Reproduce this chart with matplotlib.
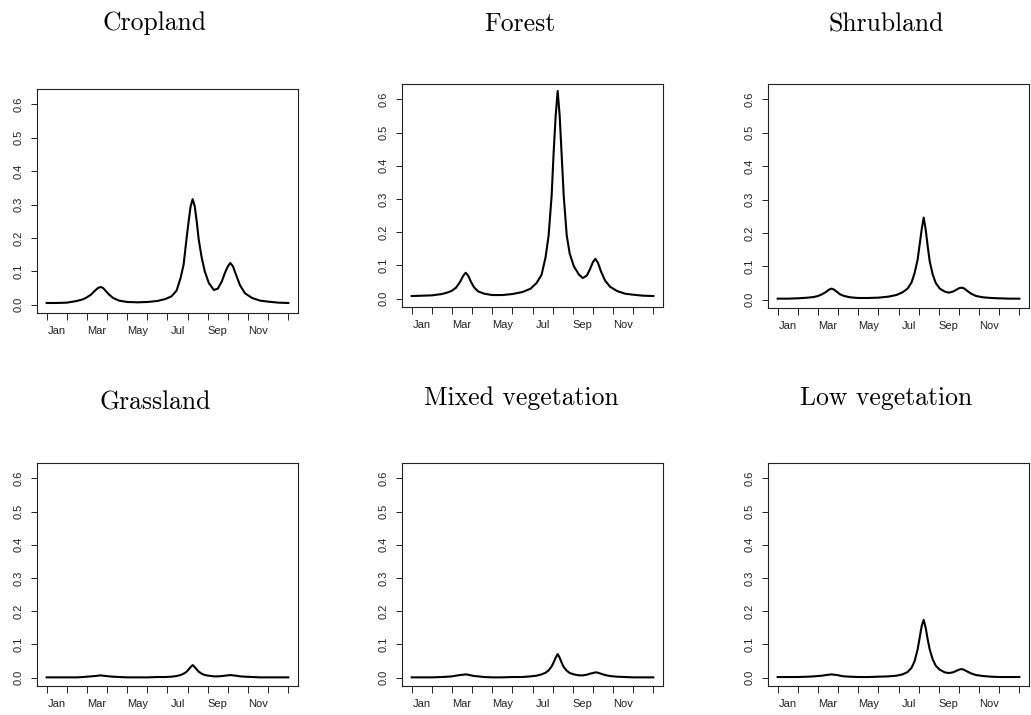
import matplotlib
matplotlib.use('Agg')
import matplotlib.pyplot as plt
from matplotlib import font_manager

# x positions in months since 1 Jan
months = [0, 0.5, 1.0, 1.5, 1.8, 2.0, 2.2, 2.4, 2.55, 2.68, 2.8, 2.95, 3.1, 3.3, 3.6,
          4.0, 4.5, 5.0, 5.5, 5.9, 6.2, 6.45, 6.65, 6.8, 6.95, 7.05, 7.15, 7.25, 7.35,
          7.45, 7.55, 7.7, 7.85, 8.05, 8.3, 8.5, 8.7, 8.85, 9.0, 9.12, 9.25, 9.4, 9.6,
          9.85, 10.2, 10.6, 11.0, 11.5, 12.0]

cropland = [0.005, 0.005, 0.006, 0.011, 0.016, 0.022, 0.030, 0.042, 0.050, 0.053,
            0.050, 0.040, 0.030, 0.020, 0.012, 0.008, 0.007, 0.008, 0.011, 0.017,
            0.025, 0.042, 0.080, 0.120, 0.200, 0.250, 0.295, 0.316, 0.295, 0.250,
            0.195, 0.140, 0.100, 0.065, 0.044, 0.048, 0.070, 0.095, 0.115, 0.125,
            0.115, 0.090, 0.058, 0.034, 0.020, 0.012, 0.009, 0.006, 0.005]
forest = [0.008, 0.009, 0.010, 0.014, 0.019, 0.024, 0.033, 0.050, 0.068, 0.078,
          0.070, 0.050, 0.034, 0.022, 0.015, 0.011, 0.011, 0.014, 0.020, 0.030,
          0.047, 0.072, 0.125, 0.190, 0.310, 0.440, 0.550, 0.625, 0.550, 0.430,
          0.310, 0.190, 0.135, 0.098, 0.073, 0.062, 0.070, 0.088, 0.110, 0.120,
          0.108, 0.082, 0.055, 0.036, 0.023, 0.015, 0.012, 0.009, 0.008]
shrubland = [0.003, 0.003, 0.004, 0.006, 0.008, 0.011, 0.016, 0.023, 0.030, 0.033,
             0.030, 0.023, 0.016, 0.011, 0.007, 0.005, 0.005, 0.006, 0.009, 0.014,
             0.022, 0.033, 0.052, 0.080, 0.120, 0.165, 0.210, 0.246, 0.210, 0.160,
             0.115, 0.075, 0.050, 0.033, 0.024, 0.021, 0.024, 0.029, 0.034, 0.036,
             0.034, 0.027, 0.018, 0.011, 0.007, 0.005, 0.004, 0.003, 0.003]
grassland = [0.001, 0.001, 0.001, 0.001, 0.002, 0.003, 0.004, 0.005, 0.006, 0.007,
             0.006, 0.005, 0.004, 0.003, 0.002, 0.001, 0.001, 0.001, 0.002, 0.002,
             0.003, 0.005, 0.008, 0.012, 0.018, 0.025, 0.032, 0.038, 0.032, 0.025,
             0.018, 0.012, 0.008, 0.006, 0.004, 0.004, 0.005, 0.006, 0.007, 0.008,
             0.007, 0.006, 0.004, 0.003, 0.002, 0.001, 0.001, 0.001, 0.001]
mixed = [0.001, 0.001, 0.001, 0.002, 0.003, 0.004, 0.006, 0.008, 0.009, 0.010,
         0.009, 0.007, 0.005, 0.004, 0.002, 0.001, 0.001, 0.002, 0.002, 0.004,
         0.006, 0.010, 0.015, 0.022, 0.034, 0.046, 0.060, 0.071, 0.060, 0.045,
         0.032, 0.021, 0.014, 0.010, 0.007, 0.007, 0.009, 0.012, 0.014, 0.016,
         0.015, 0.012, 0.008, 0.005, 0.003, 0.002, 0.001, 0.001, 0.001]
lowveg = [0.002, 0.002, 0.002, 0.003, 0.004, 0.005, 0.006, 0.008, 0.009, 0.010,
          0.009, 0.008, 0.006, 0.004, 0.003, 0.002, 0.002, 0.003, 0.004, 0.006,
          0.010, 0.017, 0.030, 0.050, 0.085, 0.120, 0.155, 0.174, 0.150, 0.115,
          0.085, 0.055, 0.036, 0.024, 0.016, 0.014, 0.016, 0.020, 0.024, 0.026,
          0.024, 0.019, 0.013, 0.008, 0.005, 0.003, 0.002, 0.002, 0.002]

titles = ['Cropland', 'Forest', 'Shrubland', 'Grassland', 'Mixed vegetation', 'Low vegetation']
series = [cropland, forest, shrubland, grassland, mixed, lowveg]
month_ticks = list(range(13))
label_pos = [0.5, 2.5, 4.5, 6.5, 8.5, 10.5]
month_labels = ['Jan', 'Mar', 'May', 'Jul', 'Sep', 'Nov']
y_ticks = [0.0, 0.1, 0.2, 0.3, 0.4, 0.5, 0.6]

# plain Helvetica-like face for the axis numbers
sans = font_manager.FontProperties(family='Liberation Sans', size=8)
for f in font_manager.findSystemFonts():
    if f.endswith('LiberationSans-Regular.ttf'):
        sans = font_manager.FontProperties(fname=f, size=8)
        break

W, H = 1031, 715
fig = plt.figure(figsize=(W / 100, H / 100), dpi=100)

# panel boxes in pixels: left, top, right, bottom
boxes = [(37, 89, 298, 313), (402, 84, 663, 307), (768, 84, 1029, 308),
         (37, 463, 298, 686), (402, 463, 663, 686), (768, 463, 1029, 686)]
title_xy = [(155, 30), (520, 31), (886, 31), (155, 409), (521, 405), (886, 405)]

for i in range(6):
    x0, y0, x1, y1 = boxes[i]
    ax = fig.add_axes([x0 / W, 1 - y1 / H, (x1 - x0) / W, (y1 - y0) / H])
    ax.plot(months, series[i], color='black', lw=1.5, solid_joinstyle='round')
    ax.set_xlim(-0.48, 12.48)
    ax.set_ylim(-0.025, 0.646)
    ax.set_xticks(month_ticks)
    ax.set_xticklabels([])
    ax.set_xticks(label_pos, minor=True)
    ax.set_xticklabels(month_labels, minor=True, fontproperties=sans)
    ax.set_yticks(y_ticks)
    ax.set_yticklabels(['%.1f' % v for v in y_ticks], rotation=90, va='center',
                       fontproperties=sans)
    ax.tick_params(axis='x', which='major', length=5, width=0.7, color='#222222')
    ax.tick_params(axis='x', which='minor', length=0, pad=9.5, colors='#222222')
    ax.tick_params(axis='y', length=4.5, width=0.7, pad=5, colors='#222222')
    for s in ax.spines.values():
        s.set_linewidth(0.8)
        s.set_color('#222222')
    tx, ty = title_xy[i]
    fig.text(tx / W, 1 - ty / H, titles[i], ha='center', va='baseline',
             fontfamily='cmr10', fontsize=18.5)

fig.savefig('out.png', dpi=100)
